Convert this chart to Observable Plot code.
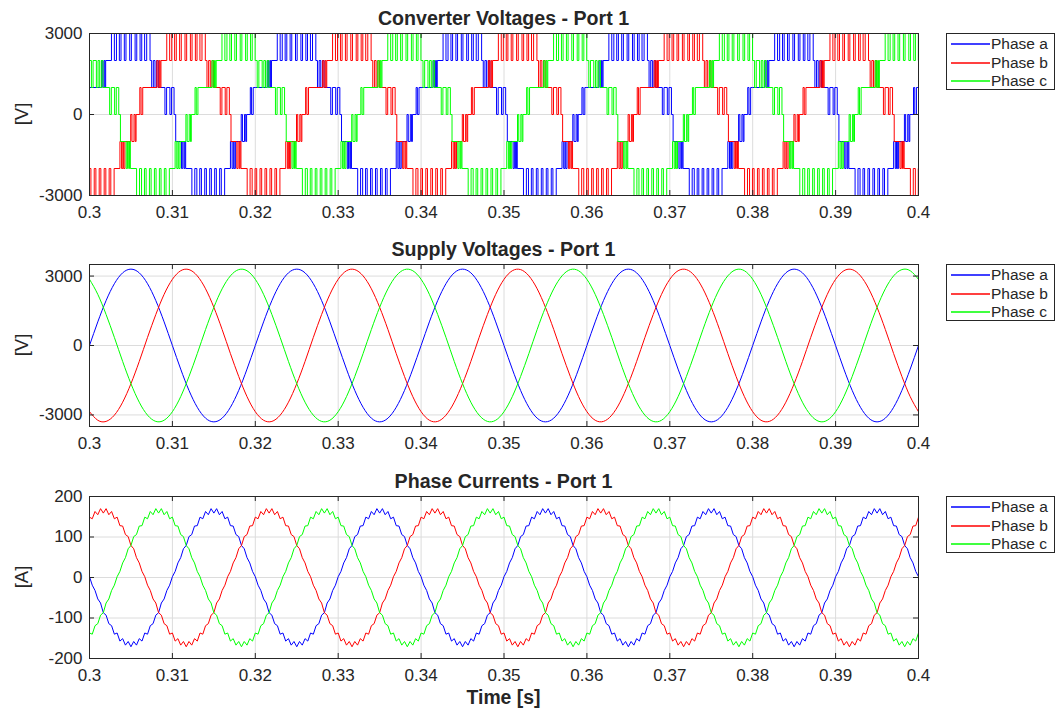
<!DOCTYPE html>
<html>
<head>
<meta charset="utf-8">
<script src="https://cdn.jsdelivr.net/npm/d3@7"></script>
<script src="https://cdn.jsdelivr.net/npm/@observablehq/plot@0.6"></script>
<style>
  body { margin: 0; background: #fff; }
  #fig { position: relative; width: 1057px; height: 711px; background: #fff; overflow: hidden;
         font-family: "Liberation Sans", Arial, Helvetica, sans-serif; color: #262626; }
  .panel { position: absolute; left: 0; }
  .title { position: absolute; font-weight: bold; font-size: 19.6px; transform: translate(-50%, -50%); white-space: nowrap; }
  .ylab { position: absolute; font-size: 18.5px; transform: translate(-50%, -50%) rotate(-90deg); white-space: nowrap; }
  .xlab { position: absolute; font-weight: bold; font-size: 19.4px; transform: translate(-50%, -50%); white-space: nowrap; }
  .legend { position: absolute; border: 1px solid #262626; background: #fff; box-sizing: border-box; width: 109px; height: 57px; }
  .legend svg { position: absolute; left: 0; top: 0; }
  .legend .lt { position: absolute; left: 44px; font-size: 15.5px; line-height: 18px; white-space: nowrap; }
</style>
</head>
<body>
<div id="fig"></div>
<script>
// ---------------- data ----------------
const phases = ["Phase a", "Phase b", "Phase c"];
const phaseColors = ["#0000ff", "#ff0000", "#00ff00"];

const xTicks = [0.3, 0.31, 0.32, 0.33, 0.34, 0.35, 0.36, 0.37, 0.38, 0.39, 0.4];
const xTickLabels = ["0.3", "0.31", "0.32", "0.33", "0.34", "0.35", "0.36", "0.37", "0.38", "0.39", "0.4"];
const voltTicks = [-3000, 0, 3000];
const currTicks = [-200, -100, 0, 100, 200];

const titles = ["Converter Voltages - Port 1", "Supply Voltages - Port 1", "Phase Currents - Port 1"];
const yLabels = ["[V]", "[V]", "[A]"];
const xLabel = "Time [s]";

const tStart = 0.3;      // s
const periodMs = 20;     // one mains cycle
const cycles = 5;        // cycles shown

// Converter voltages: switching events within one cycle (ms after t=0.3 s, level in V)
const convA_t = [0,1.45,1.6,1.75,1.85,1.95,2.65,3.0,3.25,3.6,3.8,4.2,4.4,4.85,5.05,5.5,5.7,6.1,6.3,6.65,6.9,7.3,7.5,7.7,7.9,8.1,8.3,9.1,9.3,9.7,9.9,10.2,10.4,11.1,11.25,11.4,11.5,11.6,12.35,12.7,12.95,13.3,13.5,13.9,14.1,14.5,14.7,15.1,15.3,15.7,15.9,16.3,17.0,17.2,17.35,17.45,17.6,18.3,18.45,18.7,18.85,18.95,19.4,19.55,19.75];
const convA_v = [1000,2000,1000,2000,1000,2000,3000,2000,3000,2000,3000,2000,3000,2000,3000,2000,3000,2000,3000,2000,3000,2000,1000,2000,1000,2000,1000,0,1000,0,1000,0,-1000,-2000,-1000,-2000,-1000,-2000,-3000,-2000,-3000,-2000,-3000,-2000,-3000,-2000,-3000,-2000,-3000,-2000,-3000,-2000,-1000,-2000,-1000,-2000,-1000,0,-1000,0,-1000,0,1000,0,1000];
const convB_t = [0,0.17,0.57,0.77,1.17,1.37,1.77,1.97,2.37,2.57,2.97,3.67,3.87,4.02,4.12,4.27,4.97,5.12,5.37,5.52,5.62,6.07,6.22,6.42,8.12,8.27,8.42,8.52,8.62,9.32,9.67,9.92,10.27,10.47,10.87,11.07,11.52,11.72,12.17,12.37,12.77,12.97,13.32,13.57,13.97,14.17,14.37,14.57,14.77,14.97,15.77,15.97,16.37,16.57,16.87,17.07,17.77,17.92,18.07,18.17,18.27,19.02,19.37,19.62,19.97];
const convB_v = [-2000,-3000,-2000,-3000,-2000,-3000,-2000,-3000,-2000,-3000,-2000,-1000,-2000,-1000,-2000,-1000,0,-1000,0,-1000,0,1000,0,1000,2000,1000,2000,1000,2000,3000,2000,3000,2000,3000,2000,3000,2000,3000,2000,3000,2000,3000,2000,3000,2000,1000,2000,1000,2000,1000,0,1000,0,1000,0,-1000,-2000,-1000,-2000,-1000,-2000,-3000,-2000,-3000,-2000];
const convC_t = [0,0.23,0.43,0.83,1.03,1.23,1.43,1.63,2.43,2.63,3.03,3.23,3.53,3.73,4.43,4.58,4.73,4.83,4.93,5.68,6.03,6.28,6.63,6.83,7.23,7.43,7.83,8.03,8.43,8.63,9.03,9.23,9.63,10.33,10.53,10.68,10.78,10.93,11.63,11.78,12.03,12.18,12.28,12.73,12.88,13.08,14.78,14.93,15.08,15.18,15.28,15.98,16.33,16.58,16.93,17.13,17.53,17.73,18.18,18.38,18.83,19.03,19.43,19.63,19.98];
const convC_v = [2000,1000,2000,1000,2000,1000,2000,1000,0,1000,0,1000,0,-1000,-2000,-1000,-2000,-1000,-2000,-3000,-2000,-3000,-2000,-3000,-2000,-3000,-2000,-3000,-2000,-3000,-2000,-3000,-2000,-1000,-2000,-1000,-2000,-1000,0,-1000,0,-1000,0,1000,0,1000,2000,1000,2000,1000,2000,3000,2000,3000,2000,3000,2000,3000,2000,3000,2000,3000,2000,3000,2000];

// Supply voltages: one cycle, read every 1 ms (V)
const supplyStepMs = 1;
const supplyA = [0,1020,1940,2670,3140,3300,3140,2670,1940,1020,0,-1020,-1940,-2670,-3140,-3300,-3140,-2670,-1940,-1020];
const supplyB = [-2860,-3230,-3280,-3010,-2450,-1650,-690,350,1340,2210,2860,3230,3280,3010,2450,1650,690,-350,-1340,-2210];
const supplyC = [2860,2210,1340,350,-690,-1650,-2450,-3010,-3280,-3230,-2860,-2210,-1340,-350,690,1650,2450,3010,3280,3230];

// Phase currents: one cycle, read every 1/3 ms (A), ripple included
const currStepMs = 1 / 3;
const currA = [2,-19,-32,-53,-63,-87,-93,-114,-119,-140,-137,-157,-151,-167,-158,-171,-158,-167,-151,-157,-137,-140,-119,-114,-93,-87,-63,-53,-32,-19,2,15,36,49,71,79,101,106,127,128,149,145,163,155,170,159,170,155,163,145,149,128,127,106,101,79,71,49,36,15];
const currB = [149,145,163,155,170,159,170,155,163,145,149,128,127,106,101,79,71,49,36,15,2,-19,-32,-53,-63,-87,-93,-114,-119,-140,-137,-157,-151,-167,-158,-171,-158,-167,-151,-157,-137,-140,-119,-114,-93,-87,-63,-53,-32,-19,2,15,36,49,71,79,101,106,127,128];
const currC = [-137,-140,-119,-114,-93,-87,-63,-53,-32,-19,2,15,36,49,71,79,101,106,127,128,149,145,163,155,170,159,170,155,163,145,149,128,127,106,101,79,71,49,36,15,2,-19,-32,-53,-63,-87,-93,-114,-119,-140,-137,-157,-151,-167,-158,-171,-158,-167,-151,-157];

// ---------------- build tables ----------------
function stepSeries(name, ts, vs) {
  const out = [];
  for (let n = 0; n < cycles; n++)
    for (let i = 0; i < ts.length; i++)
      out.push({phase: name, t: tStart + (n * periodMs + ts[i]) / 1000, v: vs[i]});
  out.push({phase: name, t: tStart + cycles * periodMs / 1000, v: vs[vs.length - 1]});
  return out;
}
function sampledSeries(name, vals, stepMs) {
  const out = [];
  for (let n = 0; n < cycles; n++)
    for (let k = 0; k < vals.length; k++)
      out.push({phase: name, t: tStart + (n * periodMs + k * stepMs) / 1000, v: vals[k]});
  out.push({phase: name, t: tStart + cycles * periodMs / 1000, v: vals[0]});
  return out;
}
const convData = [].concat(
  stepSeries(phases[0], convA_t, convA_v),
  stepSeries(phases[1], convB_t, convB_v),
  stepSeries(phases[2], convC_t, convC_v));
const supplyData = [].concat(
  sampledSeries(phases[0], supplyA, supplyStepMs),
  sampledSeries(phases[1], supplyB, supplyStepMs),
  sampledSeries(phases[2], supplyC, supplyStepMs));
const currData = [].concat(
  sampledSeries(phases[0], currA, currStepMs),
  sampledSeries(phases[1], currB, currStepMs),
  sampledSeries(phases[2], currC, currStepMs));

// ---------------- drawing ----------------
const fig = document.getElementById("fig");
const W = 930, mL = 89, mR = 12, plotW = W - mL - mR;
const font = '"Liberation Sans", Arial, Helvetica, sans-serif';
const legendRowTops = [10, 29, 47];

function panel({data, yDomain, yTicks, svgTop, plotTop, plotBottom, curve, title, ylab}) {
  const mT = plotTop - svgTop;
  const mB = 30;
  const H = plotBottom - svgTop + mB;
  const plotH = plotBottom - plotTop;
  const chart = Plot.plot({
    width: W, height: H,
    marginLeft: mL, marginRight: mR, marginTop: mT, marginBottom: mB,
    style: {fontFamily: font, fontSize: "17px", color: "#262626", background: "transparent", overflow: "visible"},
    x: {domain: [0.3, 0.4]},
    y: {domain: yDomain},
    color: {domain: phases, range: phaseColors},
    marks: [
      Plot.gridX(xTicks, {stroke: "#dcdcdc", strokeOpacity: 1}),
      Plot.gridY(yTicks, {stroke: "#dcdcdc", strokeOpacity: 1}),
      Plot.line(data, {x: "t", y: "v", z: "phase", stroke: "phase", curve, strokeWidth: 1, clip: true}),
      Plot.tickX(xTicks, {x: d => d, insetTop: plotH - 5, stroke: "#262626"}),
      Plot.tickX(xTicks, {x: d => d, insetBottom: plotH - 5, stroke: "#262626"}),
      Plot.tickY(yTicks, {y: d => d, insetRight: plotW - 5, stroke: "#262626"}),
      Plot.tickY(yTicks, {y: d => d, insetLeft: plotW - 5, stroke: "#262626"}),
      Plot.frame({stroke: "#262626", strokeWidth: 1}),
      Plot.axisX(xTicks, {tickSize: 0, tickPadding: 10, label: null, tickFormat: (d, i) => xTickLabels[i]}),
      Plot.axisY(yTicks, {tickSize: 0, tickPadding: 7, label: null, tickFormat: d => String(d)})
    ]
  });
  chart.classList.add("panel");
  chart.style.top = svgTop + "px";
  fig.appendChild(chart);

  const mid = (plotTop + plotBottom) / 2;
  const t = document.createElement("div");
  t.className = "title"; t.textContent = title;
  t.style.left = (mL + plotW / 2) + "px"; t.style.top = (plotTop - 15) + "px";
  fig.appendChild(t);

  const yl = document.createElement("div");
  yl.className = "ylab"; yl.textContent = ylab;
  yl.style.left = "22px"; yl.style.top = mid + "px";
  fig.appendChild(yl);

  const lg = document.createElement("div");
  lg.className = "legend";
  lg.style.left = "946px"; lg.style.top = plotTop + "px";
  const ns = "http://www.w3.org/2000/svg";
  const sv = document.createElementNS(ns, "svg");
  sv.setAttribute("width", 107); sv.setAttribute("height", 55);
  phases.forEach((p, i) => {
    const ln = document.createElementNS(ns, "line");
    ln.setAttribute("x1", 4); ln.setAttribute("x2", 43);
    ln.setAttribute("y1", legendRowTops[i]); ln.setAttribute("y2", legendRowTops[i]);
    ln.setAttribute("stroke", phaseColors[i]); ln.setAttribute("stroke-width", 1.3);
    sv.appendChild(ln);
    const lt = document.createElement("div");
    lt.className = "lt"; lt.textContent = p;
    lt.style.top = (legendRowTops[i] - 9) + "px";
    lg.appendChild(lt);
  });
  lg.appendChild(sv);
  fig.appendChild(lg);
}

panel({data: convData, yDomain: [-3000, 3000], yTicks: voltTicks, svgTop: 0, plotTop: 33, plotBottom: 195,
       curve: "step-after", title: titles[0], ylab: yLabels[0]});
panel({data: supplyData, yDomain: [-3500, 3500], yTicks: voltTicks, svgTop: 230, plotTop: 264, plotBottom: 426,
       curve: "natural", title: titles[1], ylab: yLabels[1]});
panel({data: currData, yDomain: [-200, 200], yTicks: currTicks, svgTop: 460, plotTop: 496, plotBottom: 658,
       curve: "linear", title: titles[2], ylab: yLabels[2]});

const xl = document.createElement("div");
xl.className = "xlab"; xl.textContent = xLabel;
xl.style.left = (mL + plotW / 2) + "px"; xl.style.top = "697px";
fig.appendChild(xl);
</script>
</body>
</html>
